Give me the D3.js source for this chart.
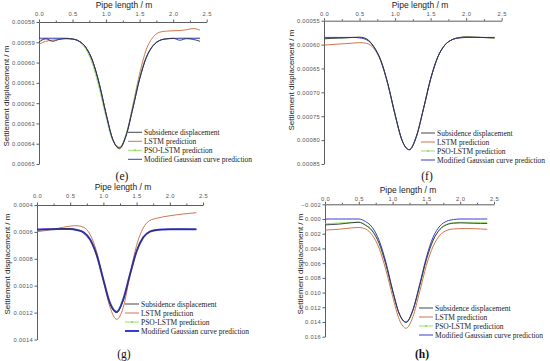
<!DOCTYPE html>
<html>
<head>
<meta charset="utf-8">
<script src="https://cdn.jsdelivr.net/npm/d3@7/dist/d3.min.js"></script>
<style>
body { margin: 0; background: #fff; }
svg { display: block; }
</style>
</head>
<body>
<script>
var width = 550,
    height = 361;

/***** data *****/
var pipeLength = [0, 0.1, 0.2, 0.3, 0.4, 0.5, 0.6, 0.7, 0.8, 0.9, 1.0, 1.1, 1.2,
                  1.3, 1.4, 1.5, 1.6, 1.7, 1.8, 1.9, 2.0, 2.1, 2.2, 2.3, 2.4];
var xTicks = [0, 0.5, 1.0, 1.5, 2.0, 2.5];

var seriesNames = ["Subsidence displacement", "LSTM prediction",
                   "PSO-LSTM prediction", "Modified Gaussian curve prediction"];

// (e) settlement, units of 1e-5 m
var eSubsidence = [59.0, 58.82, 58.95, 58.86, 58.82, 58.84, 58.95, 59.26, 59.93, 61.07, 62.53, 63.79, 64.22, 63.58, 62.24, 60.81, 59.75, 59.17, 58.91, 58.83, 58.8, 58.9, 58.82, 58.86, 58.95];
var eLstm       = [59.1, 58.95, 58.9, 58.85, 58.82, 58.84, 58.95, 59.26, 59.93, 61.07, 62.53, 63.8, 64.25, 63.55, 62.1, 60.55, 59.35, 58.75, 58.5, 58.45, 58.43, 58.42, 58.38, 58.32, 58.4];
var ePsoLstm    = [58.9, 58.85, 58.84, 58.83, 58.82, 58.84, 58.98, 59.35, 60.1, 61.3, 62.7, 63.85, 64.15, 63.5, 62.15, 60.7, 59.7, 59.15, 58.9, 58.83, 58.82, 58.82, 58.82, 58.82, 58.82];
var eGaussian   = [58.8, 58.8, 58.8, 58.8, 58.8, 58.84, 58.95, 59.26, 59.93, 61.07, 62.53, 63.79, 64.2, 63.58, 62.24, 60.81, 59.75, 59.17, 58.91, 58.83, 58.81, 58.8, 58.8, 58.8, 58.8];
var eTicks = [0.00058, 0.00059, 0.00060, 0.00061, 0.00062, 0.00063, 0.00064, 0.00065];

// (f) settlement, units of 1e-5 m
var fSubsidence = [58.8, 58.7, 58.65, 58.6, 58.5, 58.45, 58.8, 60.47, 63.39, 68.35, 74.69, 80.12, 82.0, 79.23, 73.4, 67.2, 62.64, 60.1, 58.99, 58.55, 58.4, 58.45, 58.5, 58.55, 58.6];
var fLstm       = [60.1, 60.0, 59.9, 59.8, 59.7, 59.6, 59.75, 60.8, 63.5, 68.4, 74.7, 80.1, 82.0, 79.2, 73.4, 67.2, 62.64, 60.1, 58.99, 58.55, 58.4, 58.45, 58.5, 58.55, 58.6];
var fPsoLstm    = [58.7, 58.65, 58.6, 58.58, 58.52, 58.48, 58.85, 60.55, 63.5, 68.5, 74.8, 80.2, 82.0, 79.3, 73.5, 67.3, 62.7, 60.15, 59.0, 58.56, 58.42, 58.46, 58.5, 58.55, 58.6];
var fGaussian   = [58.5, 58.5, 58.5, 58.5, 58.5, 58.6, 59.0, 60.4, 63.3, 68.3, 74.6, 80.1, 82.0, 79.2, 73.4, 67.2, 62.6, 60.1, 58.99, 58.63, 58.52, 58.5, 58.5, 58.5, 58.5];
var fTicks = [0.00055, 0.00060, 0.00065, 0.00070, 0.00075, 0.00080, 0.00085];

// (g) settlement, units of 1e-4 m
var gSubsidence = [5.85, 5.83, 5.8, 5.78, 5.76, 5.76, 5.86, 6.03, 6.57, 7.74, 9.57, 11.34, 12.0, 11.05, 9.17, 7.44, 6.41, 5.98, 5.85, 5.82, 5.81, 5.8, 5.8, 5.81, 5.82];
var gLstm       = [5.98, 5.92, 5.85, 5.75, 5.65, 5.57, 5.54, 5.65, 6.2, 7.5, 9.6, 11.6, 12.5, 11.6, 9.2, 7.0, 5.7, 5.15, 4.99, 4.88, 4.8, 4.73, 4.67, 4.62, 4.57];
var gPsoLstm    = [5.85, 5.83, 5.8, 5.78, 5.76, 5.77, 5.87, 6.05, 6.6, 7.78, 9.6, 11.35, 11.98, 11.05, 9.2, 7.46, 6.42, 5.98, 5.85, 5.82, 5.81, 5.8, 5.8, 5.81, 5.82];
var gGaussian   = [5.82, 5.81, 5.8, 5.79, 5.78, 5.78, 5.86, 6.03, 6.57, 7.74, 9.57, 11.3, 11.95, 11.0, 9.17, 7.44, 6.41, 5.98, 5.85, 5.82, 5.81, 5.81, 5.81, 5.81, 5.81];
var gTicks = [0.0004, 0.0006, 0.0008, 0.0010, 0.0012, 0.0014];

// (h) settlement, units of 1e-3 m
var hSubsidence = [0.8, 0.75, 0.7, 0.6, 0.5, 0.45, 0.86, 1.63, 3.31, 6.16, 9.8, 12.92, 14.0, 12.41, 9.06, 5.5, 2.88, 1.42, 0.78, 0.57, 0.52, 0.55, 0.58, 0.6, 0.6];
var hLstm       = [1.5, 1.45, 1.4, 1.3, 1.2, 1.15, 1.35, 2.2, 3.95, 6.9, 10.5, 13.7, 14.85, 13.3, 9.9, 6.3, 3.7, 2.2, 1.55, 1.35, 1.3, 1.3, 1.32, 1.35, 1.4];
var hPsoLstm    = [0.65, 0.6, 0.55, 0.5, 0.45, 0.4, 0.75, 1.55, 3.25, 6.1, 9.75, 12.95, 14.1, 12.5, 9.15, 5.55, 2.9, 1.35, 0.7, 0.5, 0.45, 0.45, 0.45, 0.45, 0.45];
var hGaussian   = [0, 0, 0, 0, 0, 0, 0.35, 1.15, 2.9, 5.85, 9.65, 12.9, 14.05, 12.35, 8.9, 5.2, 2.45, 0.95, 0.3, 0.08, 0, 0, 0, 0, 0];
var hTicks = [-0.002, 0.000, 0.002, 0.004, 0.006, 0.008, 0.010, 0.012, 0.014, 0.016];

/***** layout of the four panels *****/
var colors = ["#30303c", "#c9653a", "#8edb5a", "#3a3ad8"];
var drawOrder = [1, 2, 3, 0];

var panels = [
  { tag: "(e)", unit: 1e-5, ticks: eTicks, fmt: ".5f", series: [eSubsidence, eLstm, ePsoLstm, eGaussian],
    x0: 39, x1: 206.7, y0: 22, y1: 164, xTitle: [124, 8], tickY: 16, yTitle: [9, 96],
    legend: [128, 132.3], label: [122, 180], blueWidth: 1 },
  { tag: "(f)", unit: 1e-5, ticks: fTicks, fmt: ".5f", series: [fSubsidence, fLstm, fPsoLstm, fGaussian],
    x0: 324, x1: 501.7, y0: 20.7, y1: 164, xTitle: [420, 8], tickY: 16, yTitle: [294, 80],
    legend: [421, 133], label: [427, 180], blueWidth: 1 },
  { tag: "(g)", unit: 1e-4, ticks: gTicks, fmt: ".4f", series: [gSubsidence, gLstm, gPsoLstm, gGaussian],
    x0: 37, x1: 203, y0: 205, y1: 339.5, xTitle: [123, 190], tickY: 198, yTitle: [10, 264],
    legend: [125, 304], label: [124, 358], blueWidth: 2 },
  { tag: "(h)", unit: 1e-3, ticks: hTicks, fmt: ".3f", series: [hSubsidence, hLstm, hPsoLstm, hGaussian],
    x0: 325, x1: 494, y0: 204.3, y1: 336.7, xTitle: [408, 193], tickY: 201, yTitle: [303, 264],
    legend: [419, 308], label: [422, 358], blueWidth: 1 }
];

var svg = d3.select("body").append("svg")
    .attr("width", width)
    .attr("height", height)
    .style("font-family", "'Liberation Serif', serif");

panels.forEach(drawPanel);

function drawPanel(p) {
  var g = svg.append("g");
  var yDomain = d3.extent(p.ticks).map(function(v) { return v / p.unit; });

  var x = d3.scaleLinear().domain([0, 2.5]).range([p.x0, p.x1]);
  var y = d3.scaleLinear().domain(yDomain).range([p.y0, p.y1]);

  // top axis
  var xAxis = g.append("g")
      .attr("transform", "translate(0," + p.y0 + ")")
      .call(d3.axisTop(x).tickValues(xTicks).tickFormat(d3.format(".1f"))
            .tickSize(2.5).tickSizeOuter(0));
  g.append("g")
      .attr("transform", "translate(0," + p.y0 + ")")
      .call(d3.axisTop(x).tickValues([0.25, 0.75, 1.25, 1.75, 2.25]).tickFormat("")
            .tickSize(1.5).tickSizeOuter(0))
      .select(".domain").remove();
  xAxis.selectAll("text")
      .attr("y", p.tickY - p.y0).attr("dy", 0)
      .style("font-size", "5.8px").style("letter-spacing", "0.4px").style("fill", "#555");

  // left axis
  var yAxis = g.append("g")
      .attr("transform", "translate(" + p.x0 + ",0)")
      .call(d3.axisLeft(y).tickValues(p.ticks.map(function(v) { return v / p.unit; }))
            .tickFormat(function(v) { return d3.format(p.fmt)(v * p.unit); })
            .tickSize(2.5).tickSizeOuter(0));
  yAxis.selectAll("text")
      .attr("x", -4)
      .style("font-size", "5.8px").style("letter-spacing", "0.3px").style("fill", "#555");

  svg.selectAll(".domain, .tick line")
      .attr("stroke", "#333").attr("stroke-width", 0.8);

  // axis titles
  g.append("text")
      .attr("x", p.xTitle[0]).attr("y", p.xTitle[1])
      .attr("text-anchor", "middle")
      .style("font-family", "'Liberation Sans', Arial, sans-serif")
      .style("font-size", "8.5px").style("fill", "#222")
      .text("Pipe length / m");

  g.append("text")
      .attr("transform", "translate(" + p.yTitle[0] + "," + p.yTitle[1] + ") rotate(-90)")
      .attr("text-anchor", "middle")
      .style("font-family", "'Liberation Sans', Arial, sans-serif")
      .style("font-size", "8px").style("fill", "#222")
      .text("Settlement displacement / m");

  // curves
  var line = d3.line()
      .x(function(d, i) { return x(pipeLength[i]); })
      .y(function(d) { return y(d); })
      .curve(d3.curveMonotoneX);

  drawOrder.forEach(function(k) {
    g.append("path")
        .datum(p.series[k])
        .attr("fill", "none")
        .attr("stroke", colors[k])
        .attr("stroke-width", k === 3 ? p.blueWidth : 0.9)
        .attr("d", line);
  });

  // legend
  var leg = g.selectAll(".leg")
      .data(seriesNames)
      .enter().append("g")
      .attr("transform", function(d, i) {
        return "translate(" + p.legend[0] + "," + (p.legend[1] + i * 9) + ")";
      });
  leg.append("line")
      .attr("x1", 0).attr("x2", 14)
      .attr("stroke", function(d, i) { return colors[i]; })
      .attr("stroke-width", function(d, i) { return i === 3 ? p.blueWidth : 0.9; });
  leg.filter(function(d, i) { return i === 2; })
      .append("circle")
      .attr("cx", 7).attr("r", 1)
      .attr("fill", colors[2]);
  leg.append("text")
      .attr("x", 16).attr("dy", "0.35em")
      .style("font-size", "7.5px").style("fill", "#222")
      .text(function(d) { return d; });

  // panel label
  g.append("text")
      .attr("x", p.label[0]).attr("y", p.label[1])
      .attr("text-anchor", "middle")
      .style("font-size", "11.5px")
      .style("font-weight", p.tag === "(h)" ? "bold" : "normal")
      .style("fill", "#111")
      .text(p.tag);
}
</script>
</body>
</html>
